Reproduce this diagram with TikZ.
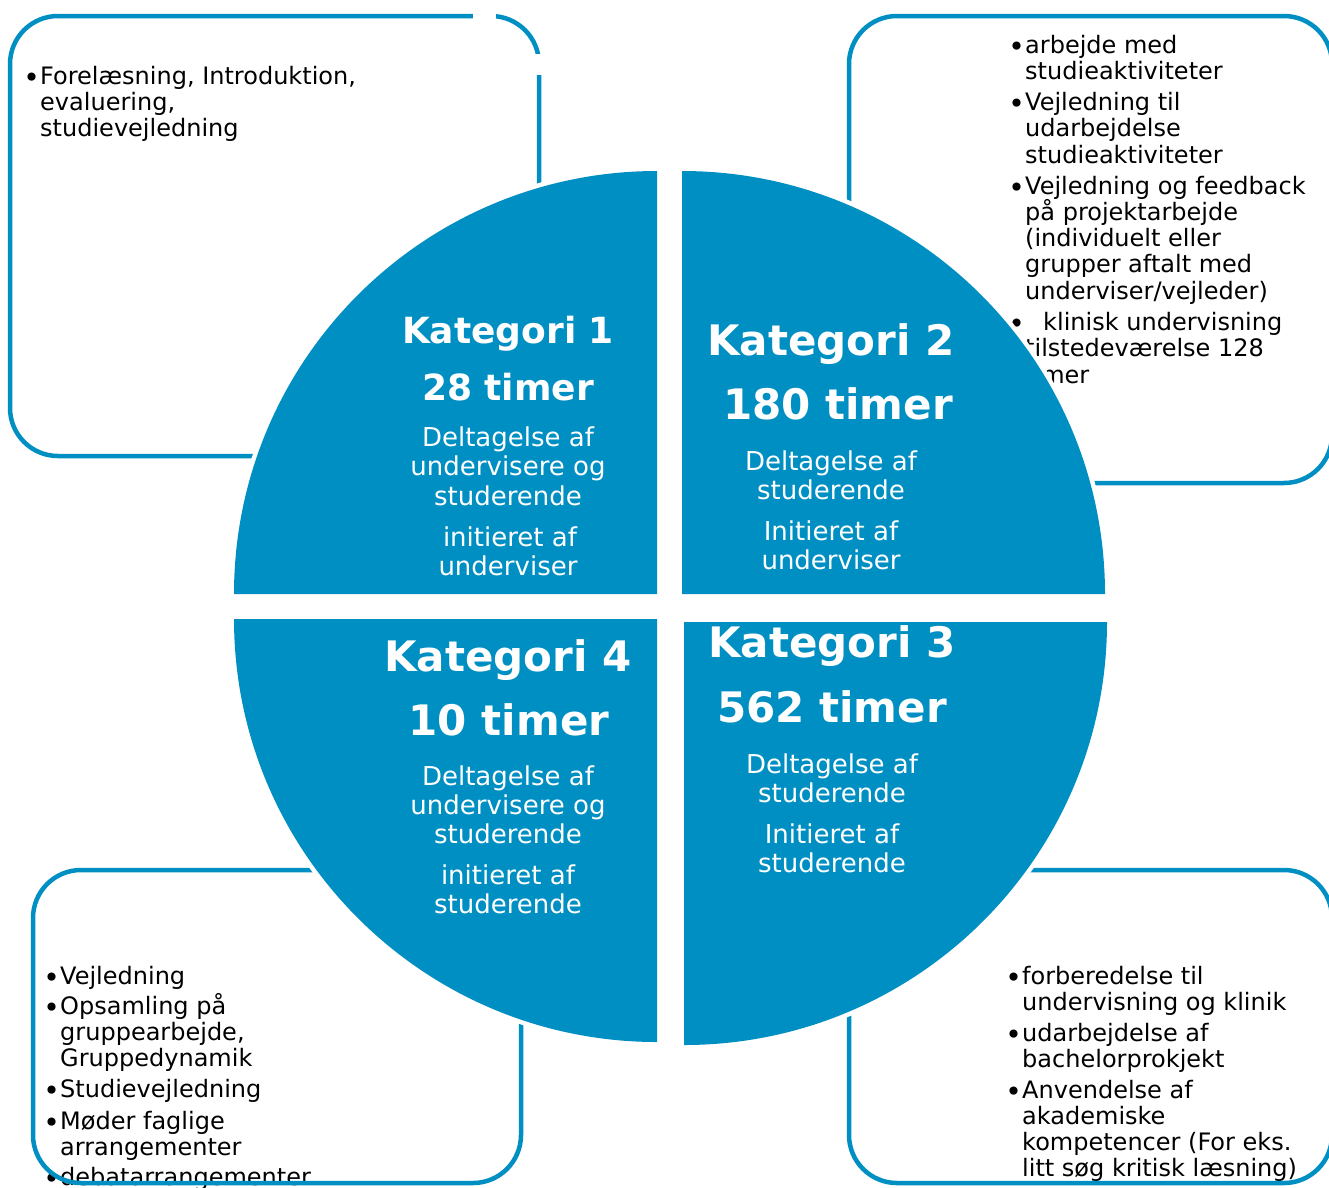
\documentclass[tikz,border=0pt]{standalone}
\usepackage{fontspec}
\setmainfont{DejaVu Sans}
\definecolor{cblue}{RGB}{0,143,194}
\tikzset{
  boxline/.style={draw=cblue,line width=4.5pt,rounded corners=48pt},
  quad/.style={fill=cblue,preaction={draw=white,line width=9pt}},
  btxt/.style={font=\fontsize{24}{26}\selectfont,anchor=base west,inner sep=0pt,text=black},
  bul/.style={font=\fontsize{28}{28}\selectfont,anchor=base west,inner sep=0pt,text=black,xshift=-16.8pt,yshift=-3.3pt},
  ctxt/.style={font=\fontsize{26}{29}\selectfont,anchor=base,inner sep=0pt,text=white},
  chead/.style={font=\bfseries\fontsize{42}{46}\selectfont,anchor=base,inner sep=0pt,text=white},
  cheads/.style={font=\bfseries\fontsize{36}{40}\selectfont,anchor=base,inner sep=0pt,text=white}
}
\begin{document}
\begin{tikzpicture}[x=1pt,y=-1pt]
\useasboundingbox (0,0) rectangle (1329,1187);
\fill[white] (0,0) rectangle (1329,1187);
% ---------- box texts ----------
% top left
\node[bul] (tlb1) at (40,84) {•};
\node[btxt] (tl1) at (40,84) {Forelæsning, Introduktion,};
\node[btxt] (tl2) at (40,110) {evaluering,};
\node[btxt] (tl3) at (40,136) {studievejledning};
% top right
\node[bul] (trb1) at (1025,53) {•};
\node[btxt] (tr1) at (1025,53) {arbejde med};
\node[btxt] (tr2) at (1025,79) {studieaktiviteter};
\node[bul] (trb2) at (1025,110) {•};
\node[btxt] (tr3) at (1025,110) {Vejledning til};
\node[btxt] (tr4) at (1025,136) {udarbejdelse};
\node[btxt] (tr5) at (1025,163) {studieaktiviteter};
\node[bul] (trb3) at (1025,194) {•};
\node[btxt] (tr6) at (1025,194) {Vejledning og feedback};
\node[btxt] (tr7) at (1025,220) {på projektarbejde};
\node[btxt] (tr8) at (1025,246) {(individuelt eller};
\node[btxt] (tr9) at (1025,272) {grupper aftalt med};
\node[btxt] (tr10) at (1025,299) {underviser/vejleder)};
\node[bul] (trb4) at (1025,330) {•};
\node[btxt] (tr11) at (1043,330) {klinisk undervisning};
\node[btxt] (tr12) at (1025,356) {tilstedeværelse 128};
\node[btxt] (tr13) at (1025,383) {timer};
% bottom left
\node[bul] (blb1) at (60,984) {•};
\node[btxt] (bl1) at (60,984) {Vejledning};
\node[bul] (blb2) at (60,1014) {•};
\node[btxt] (bl2) at (60,1014) {Opsamling på};
\node[btxt] (bl3) at (60,1040) {gruppearbejde,};
\node[btxt] (bl4) at (60,1066) {Gruppedynamik};
\node[bul] (blb3) at (60,1097) {•};
\node[btxt] (bl5) at (60,1097) {Studievejledning};
\node[bul] (blb4) at (60,1129) {•};
\node[btxt] (bl6) at (60,1129) {Møder faglige};
\node[btxt] (bl7) at (60,1155) {arrangementer};
\node[bul] (blb5) at (60,1185) {•};
\node[btxt] (bl8) at (60,1185) {debatarrangementer};
% bottom right
\node[bul] (brb1) at (1022,984) {•};
\node[btxt] (br1) at (1022,984) {forberedelse til};
\node[btxt] (br2) at (1022,1010) {undervisning og klinik};
\node[bul] (brb2) at (1022,1041) {•};
\node[btxt] (br3) at (1022,1041) {udarbejdelse af};
\node[btxt] (br4) at (1022,1067) {bachelorprokjekt};
\node[bul] (brb3) at (1022,1098) {•};
\node[btxt] (br5) at (1022,1098) {Anvendelse af};
\node[btxt] (br6) at (1022,1124) {akademiske};
\node[btxt] (br7) at (1022,1150) {kompetencer (For eks.};
\node[btxt] (br8) at (1022,1176) {litt søg kritisk læsning)};
% ---------- boxes ----------
\draw[boxline] (10,16) rectangle (539,456);
\draw[boxline] (849,16) rectangle (1332,483);
\draw[boxline] (33,870) rectangle (521,1183);
\draw[boxline] (849,870) rectangle (1332,1183);
\fill[white] (473,10) rectangle (496,22);
\fill[white] (533,54) rectangle (546,75);
% ---------- quadrants ----------
\path[quad] (657,594) -- (234,594) arc[start angle=180,end angle=270,radius=423] -- cycle;
\path[quad] (682,594) -- (682,171) arc[start angle=270,end angle=360,radius=423] -- cycle;
\path[quad] (657,619) -- (234,619) arc[start angle=180,end angle=90,radius=423] -- cycle;
\path[quad] (684,622) -- (1107,622) arc[start angle=0,end angle=90,radius=423] -- cycle;
% ---------- quadrant texts ----------
\node[cheads] (q1a) at (508,343) {Kategori 1};
\node[cheads] (q1b) at (508,400) {28 timer};
\node[ctxt] (q1c) at (508,446) {Deltagelse af};
\node[ctxt] (q1d) at (508,475) {undervisere og};
\node[ctxt] (q1e) at (508,505) {studerende};
\node[ctxt] (q1f) at (510,546) {initieret af};
\node[ctxt] (q1g) at (508,575) {underviser};
\node[chead] (q2a) at (831,355) {Kategori 2};
\node[chead] (q2b) at (838,419) {180 timer};
\node[ctxt] (q2c) at (831,470) {Deltagelse af};
\node[ctxt] (q2d) at (831,499) {studerende};
\node[ctxt] (q2e) at (831,540) {Initieret af};
\node[ctxt] (q2f) at (831,569) {underviser};
\node[chead] (q3a) at (832,657) {Kategori 3};
\node[chead] (q3b) at (832,722) {562 timer};
\node[ctxt] (q3c) at (832,773) {Deltagelse af};
\node[ctxt] (q3d) at (832,802) {studerende};
\node[ctxt] (q3e) at (832,843) {Initieret af};
\node[ctxt] (q3f) at (832,872) {studerende};
\node[chead] (q4a) at (508,671) {Kategori 4};
\node[chead] (q4b) at (509,735) {10 timer};
\node[ctxt] (q4c) at (508,785) {Deltagelse af};
\node[ctxt] (q4d) at (508,814) {undervisere og};
\node[ctxt] (q4e) at (508,843) {studerende};
\node[ctxt] (q4f) at (508,884) {initieret af};
\node[ctxt] (q4g) at (508,913) {studerende};
\end{tikzpicture}
\end{document}
